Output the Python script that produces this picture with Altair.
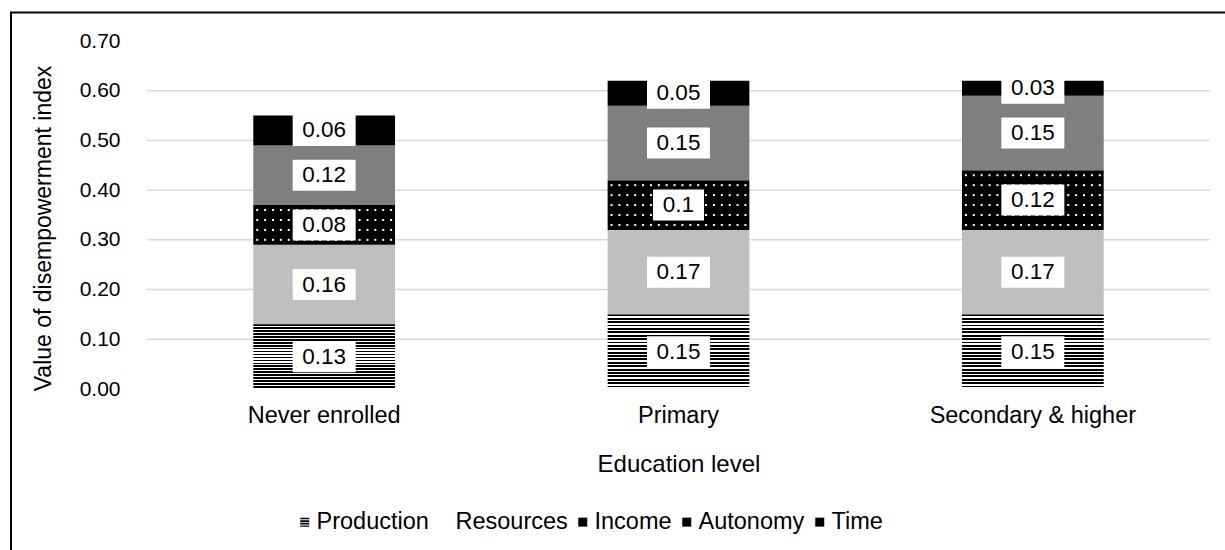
import altair as alt
import pandas as pd

# Disempowerment index by education level, split by domain
categories = ["Never enrolled", "Primary", "Secondary & higher"]
series = ["Production", "Resources", "Income", "Autonomy", "Time"]
production = [0.13, 0.15, 0.15]
resources = [0.16, 0.17, 0.17]
income = [0.08, 0.10, 0.12]
autonomy = [0.12, 0.15, 0.15]
time_use = [0.06, 0.05, 0.03]
y_ticks = [0.0, 0.1, 0.2, 0.3, 0.4, 0.5, 0.6, 0.7]
grid_values = [0.1, 0.2, 0.3, 0.4, 0.5, 0.6]

values = {
    "Production": production,
    "Resources": resources,
    "Income": income,
    "Autonomy": autonomy,
    "Time": time_use,
}
bar_fill = {
    "Production": "#000000",
    "Resources": "#bfbfbf",
    "Income": "#000000",
    "Autonomy": "#7f7f7f",
    "Time": "#000000",
}
legend_fill = ["#000000", "#ffffff", "#000000", "#000000", "#000000"]

FONT = "Liberation Sans"
W, H = 1063, 348
BOX_H = 31
FS = 22.5
FS_AX = 23.5

# stacked segments
rows = []
for i, cat in enumerate(categories):
    base = 0.0
    for s in series:
        v = values[s][i]
        label = f"{v:g}"
        box_w = 12 * len(label) + 15
        r = BOX_H / box_w
        rows.append(dict(
            category=cat, series=s, value=v,
            start=round(base, 4), end=round(base + v, 4), mid=round(base + v / 2, 4),
            label=label, fill=bar_fill[s],
            box_size=box_w ** 2,
            box_shape=f"M-1,{-r:.4f}H1V{r:.4f}H-1Z",
        ))
        base += v
df = pd.DataFrame(rows)

# white dot texture for the Income segments (pixel offsets from the bar's left edge)
BAND = W / 3 * 0.4
N_COLS = 18
DOT_STEP = BAND / N_COLS
dot_rows = []
for _, seg in df[df.series == "Income"].iterrows():
    yy = seg.start + 0.01
    while yy < seg.end - 0.004:
        for c in range(N_COLS):
            dot_rows.append(dict(category=seg.category, off=(c + 0.5) * DOT_STEP,
                                 yy=round(yy, 4)))
        yy += 0.02
dots = pd.DataFrame(dot_rows)

# horizontal line texture for Production
N_STRIPES = 22
stops = []
for k in range(N_STRIPES):
    a = k / N_STRIPES
    b = (k + 0.55) / N_STRIPES
    c = (k + 1) / N_STRIPES
    stops += [
        alt.GradientStop(offset=a, color="#000000"),
        alt.GradientStop(offset=b, color="#000000"),
        alt.GradientStop(offset=b, color="#ffffff"),
        alt.GradientStop(offset=c, color="#ffffff"),
    ]
stripes = alt.LinearGradient(gradient="linear", stops=stops, x1=0, x2=0, y1=0, y2=1)

x_scale = alt.Scale(domain=categories, paddingInner=0.6, paddingOuter=0.3)
y_scale = alt.Scale(domain=[0, 0.7], nice=False)

x_axis = alt.Axis(
    labelFontSize=FS_AX, labelColor="#000000", labelFont=FONT, labelPadding=14,
    labelAngle=0, labelLimit=400, domain=False, ticks=False, grid=False,
    titleFontSize=24, titleColor="#000000", titleFont=FONT, titleFontWeight="normal",
    titlePadding=26,
)
y_axis = alt.Axis(
    values=y_ticks, format=".2f", labelFontSize=21, labelColor="#000000",
    labelFont=FONT, labelPadding=27, domain=False, ticks=False, grid=False,
    titleFontSize=23, titleColor="#000000", titleFont=FONT, titleFontWeight="normal",
    titlePadding=24, titleY=187,
)

X_TITLE = "Education level"
Y_TITLE = "Value of disempowerment index"


def xenc():
    return alt.X("category:N", sort=categories, scale=x_scale, axis=x_axis, title=X_TITLE)


def yenc(field):
    return alt.Y(field, scale=y_scale, axis=y_axis, title=Y_TITLE)


grid = alt.Chart(pd.DataFrame({"g": grid_values})).mark_rule(
    color="#d9d9d9", strokeWidth=1.5
).encode(y=yenc("g:Q"))

base = alt.Chart(df)

bars = base.transform_filter(alt.datum.series != "Production").mark_bar().encode(
    x=xenc(), y=yenc("start:Q"), y2="end:Q",
    fill=alt.Fill("fill:N", scale=None),
)

prod_bars = base.transform_filter(alt.datum.series == "Production").mark_bar(
    color=stripes
).encode(x=xenc(), y=yenc("start:Q"), y2="end:Q")

dot_layer = alt.Chart(dots).mark_square(size=4, color="#ffffff", opacity=1).encode(
    x=xenc(), xOffset=alt.XOffset("off:Q", scale=None), y=yenc("yy:Q"),
)

legend = alt.Legend(
    orient="none", legendX=146, legendY=469, direction="horizontal", title=None,
    labelFontSize=FS_AX, labelFont=FONT, labelColor="#000000", symbolSize=81,
    symbolOpacity=1, symbolStrokeWidth=0, columnPadding=3, labelOffset=0,
)
legend_path = "M-1,-1H1V-0.62H-1Z M-1,-0.42H1V-0.04H-1Z M-1,0.16H1V0.54H-1Z M-1,0.74H1V1H-1Z"
legend_layer = base.mark_point(filled=True, opacity=0).encode(
    x=xenc(), y=yenc("mid:Q"),
    color=alt.Color("series:N", sort=series,
                    scale=alt.Scale(domain=series, range=legend_fill), legend=legend),
    shape=alt.Shape("series:N", sort=series,
                    scale=alt.Scale(domain=series,
                                    range=[legend_path, "square", "square", "square", "square"]),
                    legend=legend),
)

boxes = base.mark_point(filled=True, color="#ffffff", opacity=1, strokeWidth=0).encode(
    x=xenc(), y=yenc("mid:Q"),
    shape=alt.Shape("box_shape:N", scale=None),
    size=alt.Size("box_size:Q", scale=None),
)

texts = base.mark_text(fontSize=FS, font=FONT, color="#000000", baseline="middle").encode(
    x=xenc(), y=yenc("mid:Q"), text="label:N",
)

frame = alt.Chart(pd.DataFrame({"a": [0]})).mark_rect(
    fillOpacity=0, stroke="#000000", strokeWidth=2
).encode(
    x=alt.value(-136), x2=alt.value(1100), y=alt.value(-28.5), y2=alt.value(540),
)

chart = alt.layer(
    grid, bars, prod_bars, dot_layer, legend_layer, boxes, texts, frame
).properties(
    width=W, height=H,
    padding={"left": 147, "top": 41, "right": 15, "bottom": 161},
    autosize=alt.AutoSizeParams(type="none"),
    background="#ffffff",
).configure(font=FONT).configure_view(strokeWidth=0)

chart.save("out.html", embed_options={"renderer": "svg", "actions": False})
